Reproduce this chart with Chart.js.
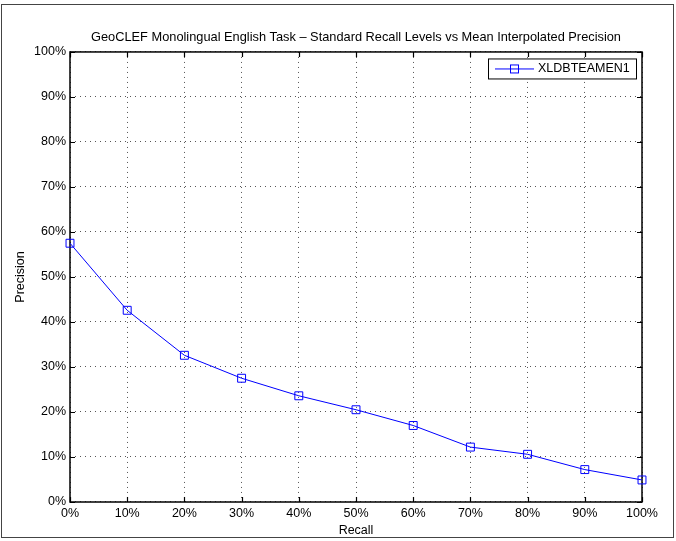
<!DOCTYPE html>
<html>
<head>
<meta charset="utf-8">
<script src="https://cdn.jsdelivr.net/npm/chart.js@4.4.1/dist/chart.umd.min.js"></script>
<style>
  html, body { margin: 0; padding: 0; background: #fff; }
  canvas { display: block; }
</style>
</head>
<body>
<canvas id="chart" width="676" height="541"></canvas>
<script>
'use strict';

const recallLevels = [0, 10, 20, 30, 40, 50, 60, 70, 80, 90, 100];
const precisionValues = [57.5, 42.6, 32.6, 27.5, 23.6, 20.5, 17.0, 12.2, 10.6, 7.2, 4.9];
const runLabel = 'XLDBTEAMEN1';
const tickValues = [0, 10, 20, 30, 40, 50, 60, 70, 80, 90, 100];

const FONT = "'Liberation Sans', Arial, Helvetica, sans-serif";
const BLUE = '#0000ff';

// outer figure frame + axes box + inward ticks
const framePlugin = {
  id: 'frame',
  beforeDraw(chart) {
    const { ctx, width, height } = chart;
    ctx.save();
    ctx.fillStyle = '#fff';
    ctx.fillRect(0, 0, width, height);
    ctx.strokeStyle = '#444';
    ctx.lineWidth = 1;
    ctx.strokeRect(1.5, 4.5, width - 4, height - 8);
    ctx.restore();
  },
  beforeDatasetsDraw(chart) {
    const { ctx, chartArea: a, scales } = chart;
    ctx.save();
    ctx.strokeStyle = '#000';
    ctx.lineWidth = 1.2;
    ctx.beginPath();
    tickValues.forEach(v => {
      const x = Math.round(scales.x.getPixelForValue(v)) + 0.5;
      ctx.moveTo(x, a.bottom); ctx.lineTo(x, a.bottom - 5);
      ctx.moveTo(x, a.top); ctx.lineTo(x, a.top + 5);
      const y = Math.round(scales.y.getPixelForValue(v)) + 0.5;
      ctx.moveTo(a.left, y); ctx.lineTo(a.left + 5, y);
      ctx.moveTo(a.right, y); ctx.lineTo(a.right - 5, y);
    });
    ctx.stroke();
    ctx.lineWidth = 1.5;
    ctx.strokeRect(a.left, a.top, a.right - a.left, a.bottom - a.top);
    ctx.restore();
  }
};

// MATLAB style legend box inside the axes, top right
const legendBoxPlugin = {
  id: 'legendBox',
  afterDraw(chart) {
    const { ctx, chartArea: a } = chart;
    const ds = chart.data.datasets[0];
    const boxW = 148, boxH = 20;
    const x0 = a.right - 6 - boxW, y0 = a.top + 6.5;
    ctx.save();
    ctx.fillStyle = '#fff';
    ctx.fillRect(x0, y0, boxW, boxH);
    ctx.strokeStyle = '#000';
    ctx.lineWidth = 1;
    ctx.strokeRect(x0 + 0.5, y0 + 0.5, boxW, boxH);
    const cy = y0 + boxH / 2 + 0.5;
    ctx.strokeStyle = ds.borderColor;
    ctx.beginPath();
    ctx.moveTo(x0 + 7, cy); ctx.lineTo(x0 + 46, cy);
    ctx.stroke();
    ctx.strokeRect(x0 + 22.5, cy - 4, 8, 8);
    ctx.fillStyle = '#000';
    ctx.font = '12.5px ' + FONT;
    ctx.textBaseline = 'middle';
    ctx.fillText(ds.label, x0 + 50, cy);
    ctx.restore();
  }
};

new Chart(document.getElementById('chart'), {
  type: 'line',
  data: {
    datasets: [{
      label: runLabel,
      data: recallLevels.map((r, i) => ({ x: r, y: precisionValues[i] })),
      borderColor: BLUE,
      backgroundColor: 'rgba(0,0,0,0)',
      borderWidth: 1,
      pointStyle: 'rect',
      pointRadius: 5.6,
      pointBorderWidth: 1,
      pointBorderColor: BLUE,
      pointBackgroundColor: 'rgba(0,0,0,0)',
      tension: 0,
      clip: false
    }]
  },
  options: {
    responsive: false,
    animation: false,
    layout: { padding: { top: 0, right: 34, bottom: 0, left: 0 } },
    plugins: {
      legend: { display: false },
      tooltip: { enabled: false },
      title: {
        display: true,
        fullSize: false,
        text: 'GeoCLEF Monolingual English Task \u2013 Standard Recall Levels vs Mean Interpolated Precision',
        color: '#000',
        font: { family: FONT, size: 12.8, weight: 'normal' },
        padding: { top: 29.5, bottom: 7.1 }
      }
    },
    scales: {
      x: {
        type: 'linear',
        min: 0, max: 100,
        afterFit: s => { s.height = 39; },
        afterBuildTicks: s => { s.ticks = tickValues.map(v => ({ value: v })); },
        ticks: {
          padding: 4,
          color: '#000',
          font: { family: FONT, size: 12.5 },
          callback: v => v + '%',
          maxRotation: 0
        },
        grid: {
          color: '#555',
          lineWidth: 1,
          drawTicks: false
        },
        border: { display: false, dash: [1, 4] },
        title: {
          display: true,
          text: 'Recall',
          color: '#000',
          font: { family: FONT, size: 12.5 },
          padding: { top: 0, bottom: 3 }
        }
      },
      y: {
        type: 'linear',
        min: 0, max: 100,
        afterFit: s => { s.width = 70; },
        afterBuildTicks: s => { s.ticks = tickValues.map(v => ({ value: v })); },
        ticks: {
          padding: 4,
          color: '#000',
          font: { family: FONT, size: 12.5 },
          callback: v => v + '%'
        },
        grid: {
          color: '#555',
          lineWidth: 1,
          drawTicks: false
        },
        border: { display: false, dash: [1, 4] },
        title: {
          display: true,
          text: 'Precision',
          color: '#000',
          font: { family: FONT, size: 12.5 },
          padding: { top: 13, bottom: 0 }
        }
      }
    }
  },
  plugins: [framePlugin, legendBoxPlugin]
});
</script>
</body>
</html>
